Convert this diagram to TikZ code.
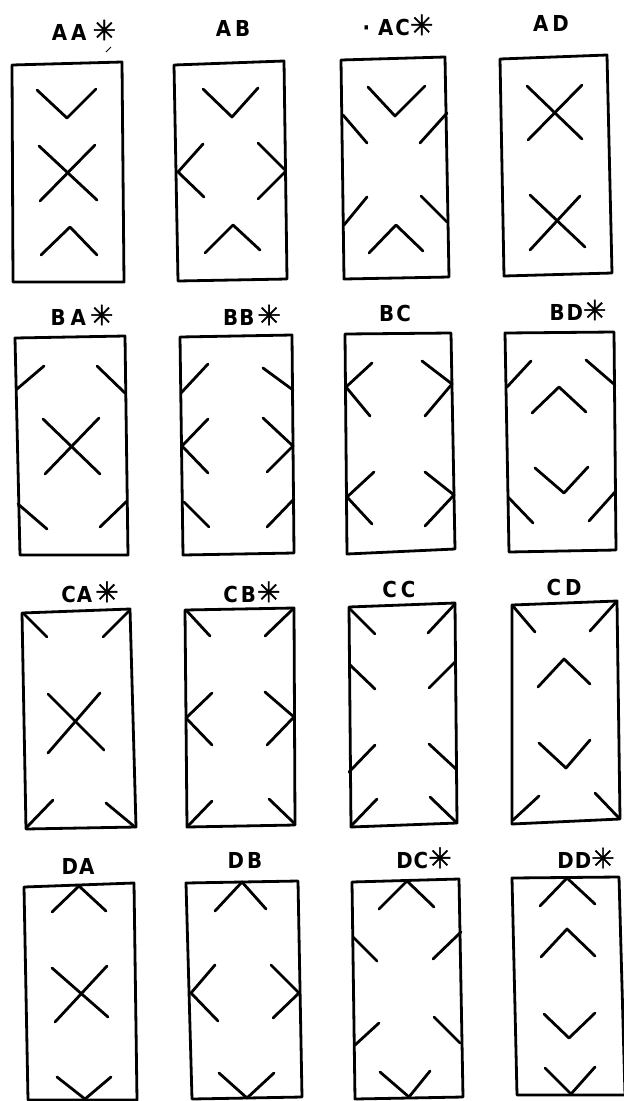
\documentclass[tikz,border=0pt]{standalone}
\usepackage{fontspec}
\setmainfont{DejaVu Sans}
\newfontfamily\lblfont{DejaVu Sans Condensed}
\newfontfamily\starfont[FakeBold=1.5]{DejaVu Sans}
\newcommand{\starmk}{{\starfont\mdseries\fontsize{28}{28}\selectfont ✳}}
\begin{document}
\begin{tikzpicture}[x=1pt,y=-1pt,
  box/.style={line width=2.8pt,line join=round,line cap=round},
  mk/.style={line width=2.8pt,line join=round,line cap=round},
  lbl/.style={font=\lblfont\bfseries\fontsize{22}{22}\selectfont,inner sep=0pt,anchor=center}]
\useasboundingbox[fill=white] (0,0) rectangle (624,1101);
% ---------- labels ----------
\node[lbl] (lAA) at (84,30) {A\hspace{4pt}A\hspace{6pt}\starmk};
\node[lbl] (lAB) at (233,28) {A\hspace{4pt}B};
\node[lbl] (lAC) at (398,25) {·\hspace{8pt}A\hspace{2pt}C\starmk};
\node[lbl] (lAD) at (551,23) {A\hspace{4pt}D};
\node[lbl] (lBA) at (82,315) {B\hspace{5pt}A\hspace{4pt}\starmk};
\node[lbl] (lBB) at (252,315) {B\hspace{1pt}B\hspace{3pt}\starmk};
\node[lbl] (lBC) at (395,313) {B\hspace{2pt}C};
\node[lbl] (lBD) at (578,310) {B\hspace{2pt}D\starmk};
\node[lbl] (lCA) at (90,592) {C\hspace{1pt}A\hspace{3pt}\starmk};
\node[lbl] (lCB) at (252,592) {C\hspace{3pt}B\hspace{1pt}\starmk};
\node[lbl] (lCC) at (399,589) {C\hspace{4pt}C};
\node[lbl] (lCD) at (564,587) {C\hspace{4pt}D};
\node[lbl] (lDA) at (78,866) {D\hspace{1pt}A};
\node[lbl] (lDB) at (245,860) {D\hspace{3pt}B};
\node[lbl] (lDC) at (424,858) {D\hspace{1pt}C\starmk};
\node[lbl] (lDD) at (586,858) {D\hspace{1pt}D\starmk};
% ---------- boxes ----------
\draw[box] (12,65)--(122,62)--(124,282)--(13,282)--cycle;      % AA
\draw[box] (174,65)--(284,61)--(287,279)--(178,281)--cycle;    % AB
\draw[box] (341,60)--(445,57)--(449,277)--(344,279)--cycle;    % AC
\draw[box] (500,59)--(607,55)--(612,273)--(504,276)--cycle;    % AD
\draw[box] (15,338)--(125,336)--(128,555)--(20,555)--cycle;    % BA
\draw[box] (180,337)--(292,335)--(294,553)--(183,555)--cycle;  % BB
\draw[box] (345,334)--(451,333)--(455,549)--(347,554)--cycle;  % BC
\draw[box] (505,333)--(614,332)--(616,550)--(509,552)--cycle;  % BD
\draw[box] (22,613)--(130,609)--(136,827)--(26,829)--cycle;    % CA
\draw[box] (185,610)--(294,608)--(295,825)--(187,827)--cycle;  % CB
\draw[box] (349,607)--(455,603)--(457,823)--(351,827)--cycle;  % CC
\draw[box] (512,605)--(617,601)--(620,819)--(512,824)--cycle;  % CD
\draw[box] (24,887)--(134,883)--(137,1100)--(28,1100)--cycle;  % DA
\draw[box] (186,883)--(298,881)--(302,1097)--(192,1099)--cycle;% DB
\draw[box] (352,882)--(459,879)--(463,1097)--(355,1099)--cycle;% DC
\draw[box] (512,878)--(619,877)--(625,1095)--(517,1095)--cycle;% DD
% ---------- AA ----------
\draw[mk] (37,90)--(67,118)--(96,89);
\draw[mk] (39,146)--(97,200);
\draw[mk] (95,145)--(40,201);
\draw[mk] (41,255)--(70,227)--(97,255);
\draw[line width=1pt] (106,52)--(111,47);
% ---------- AB ----------
\draw[mk] (203,89)--(232,117)--(258,88);
\draw[mk] (203,144)--(178,172)--(204,197);
\draw[mk] (258,143)--(286,171)--(258,199);
\draw[mk] (205,253)--(233,225)--(260,250);
% ---------- AC ----------
\draw[mk] (368,87)--(395,116)--(425,86);
\draw[mk] (343,115)--(367,143);
\draw[mk] (447,113)--(420,143);
\draw[mk] (367,197)--(344,225);
\draw[mk] (421,196)--(447,222);
\draw[mk] (369,253)--(396,225)--(423,251);
% ---------- AD ----------
\draw[mk] (527,86)--(582,139);
\draw[mk] (582,85)--(528,140);
\draw[mk] (530,195)--(585,247);
\draw[mk] (580,196)--(530,250);
% ---------- BA ----------
\draw[mk] (17,389)--(44,366);
\draw[mk] (97,366)--(125,393);
\draw[mk] (43,419)--(100,474);
\draw[mk] (99,418)--(45,474);
\draw[mk] (18,504)--(47,529);
\draw[mk] (127,501)--(100,527);
% ---------- BB ----------
\draw[mk] (181,393)--(208,364);
\draw[mk] (263,368)--(293,390);
\draw[mk] (208,419)--(182,446)--(208,473);
\draw[mk] (263,418)--(293,446)--(267,472);
\draw[mk] (184,502)--(209,527);
\draw[mk] (294,499)--(267,527);
% ---------- BC ----------
\draw[mk] (372,363)--(346,387)--(370,416);
\draw[mk] (422,361)--(452,384)--(425,416);
\draw[mk] (374,472)--(347,497)--(372,524);
\draw[mk] (425,472)--(454,495)--(425,526);
% ---------- BD ----------
\draw[mk] (507,387)--(531,361);
\draw[mk] (586,360)--(615,385);
\draw[mk] (532,413)--(559,387)--(586,412);
\draw[mk] (535,468)--(564,493)--(588,467);
\draw[mk] (508,497)--(533,523);
\draw[mk] (615,492)--(589,521);
% ---------- CA ----------
\draw[mk] (23,613)--(47,637);
\draw[mk] (129,611)--(103,637);
\draw[mk] (48,694)--(104,750);
\draw[mk] (100,693)--(48,753);
\draw[mk] (26,828)--(53,800);
\draw[mk] (106,803)--(135,827);
% ---------- CB ----------
\draw[mk] (186,610)--(210,636);
\draw[mk] (293,609)--(265,636);
\draw[mk] (212,693)--(186,718)--(212,745);
\draw[mk] (265,692)--(294,717)--(267,745);
\draw[mk] (187,827)--(212,801);
\draw[mk] (269,799)--(295,824);
% ---------- CC ----------
\draw[mk] (349,608)--(375,634);
\draw[mk] (455,604)--(428,633);
\draw[mk] (349,664)--(375,689);
\draw[mk] (456,661)--(429,688);
\draw[mk] (349,772)--(375,745);
\draw[mk] (429,744)--(456,769);
\draw[mk] (351,826)--(377,799);
\draw[mk] (430,797)--(457,823);
% ---------- CD ----------
\draw[mk] (512,605)--(535,632);
\draw[mk] (617,601)--(590,631);
\draw[mk] (538,687)--(564,659)--(590,684);
\draw[mk] (539,743)--(566,768)--(590,740);
\draw[mk] (513,820)--(539,796);
\draw[mk] (595,793)--(619,818);
% ---------- DA ----------
\draw[mk] (52,912)--(79,886)--(106,911);
\draw[mk] (52,968)--(108,1017);
\draw[mk] (107,966)--(55,1022);
\draw[mk] (57,1077)--(85,1099)--(111,1077);
% ---------- DB ----------
\draw[mk] (215,911)--(242,882)--(266,909);
\draw[mk] (215,965)--(191,993)--(218,1021);
\draw[mk] (271,965)--(299,993)--(273,1018);
\draw[mk] (219,1073)--(247,1098)--(274,1073);
% ---------- DC ----------
\draw[mk] (379,909)--(407,881)--(434,907);
\draw[mk] (353,937)--(377,961);
\draw[mk] (461,932)--(433,959);
\draw[mk] (355,1045)--(379,1023);
\draw[mk] (434,1017)--(460,1043);
\draw[mk] (380,1072)--(409,1097)--(430,1071);
% ---------- DD ----------
\draw[mk] (540,906)--(567,878)--(595,904);
\draw[mk] (541,957)--(567,929)--(595,956);
\draw[mk] (544,1014)--(569,1038)--(595,1013);
\draw[mk] (545,1068)--(571,1094)--(595,1067);
\end{tikzpicture}
\end{document}
